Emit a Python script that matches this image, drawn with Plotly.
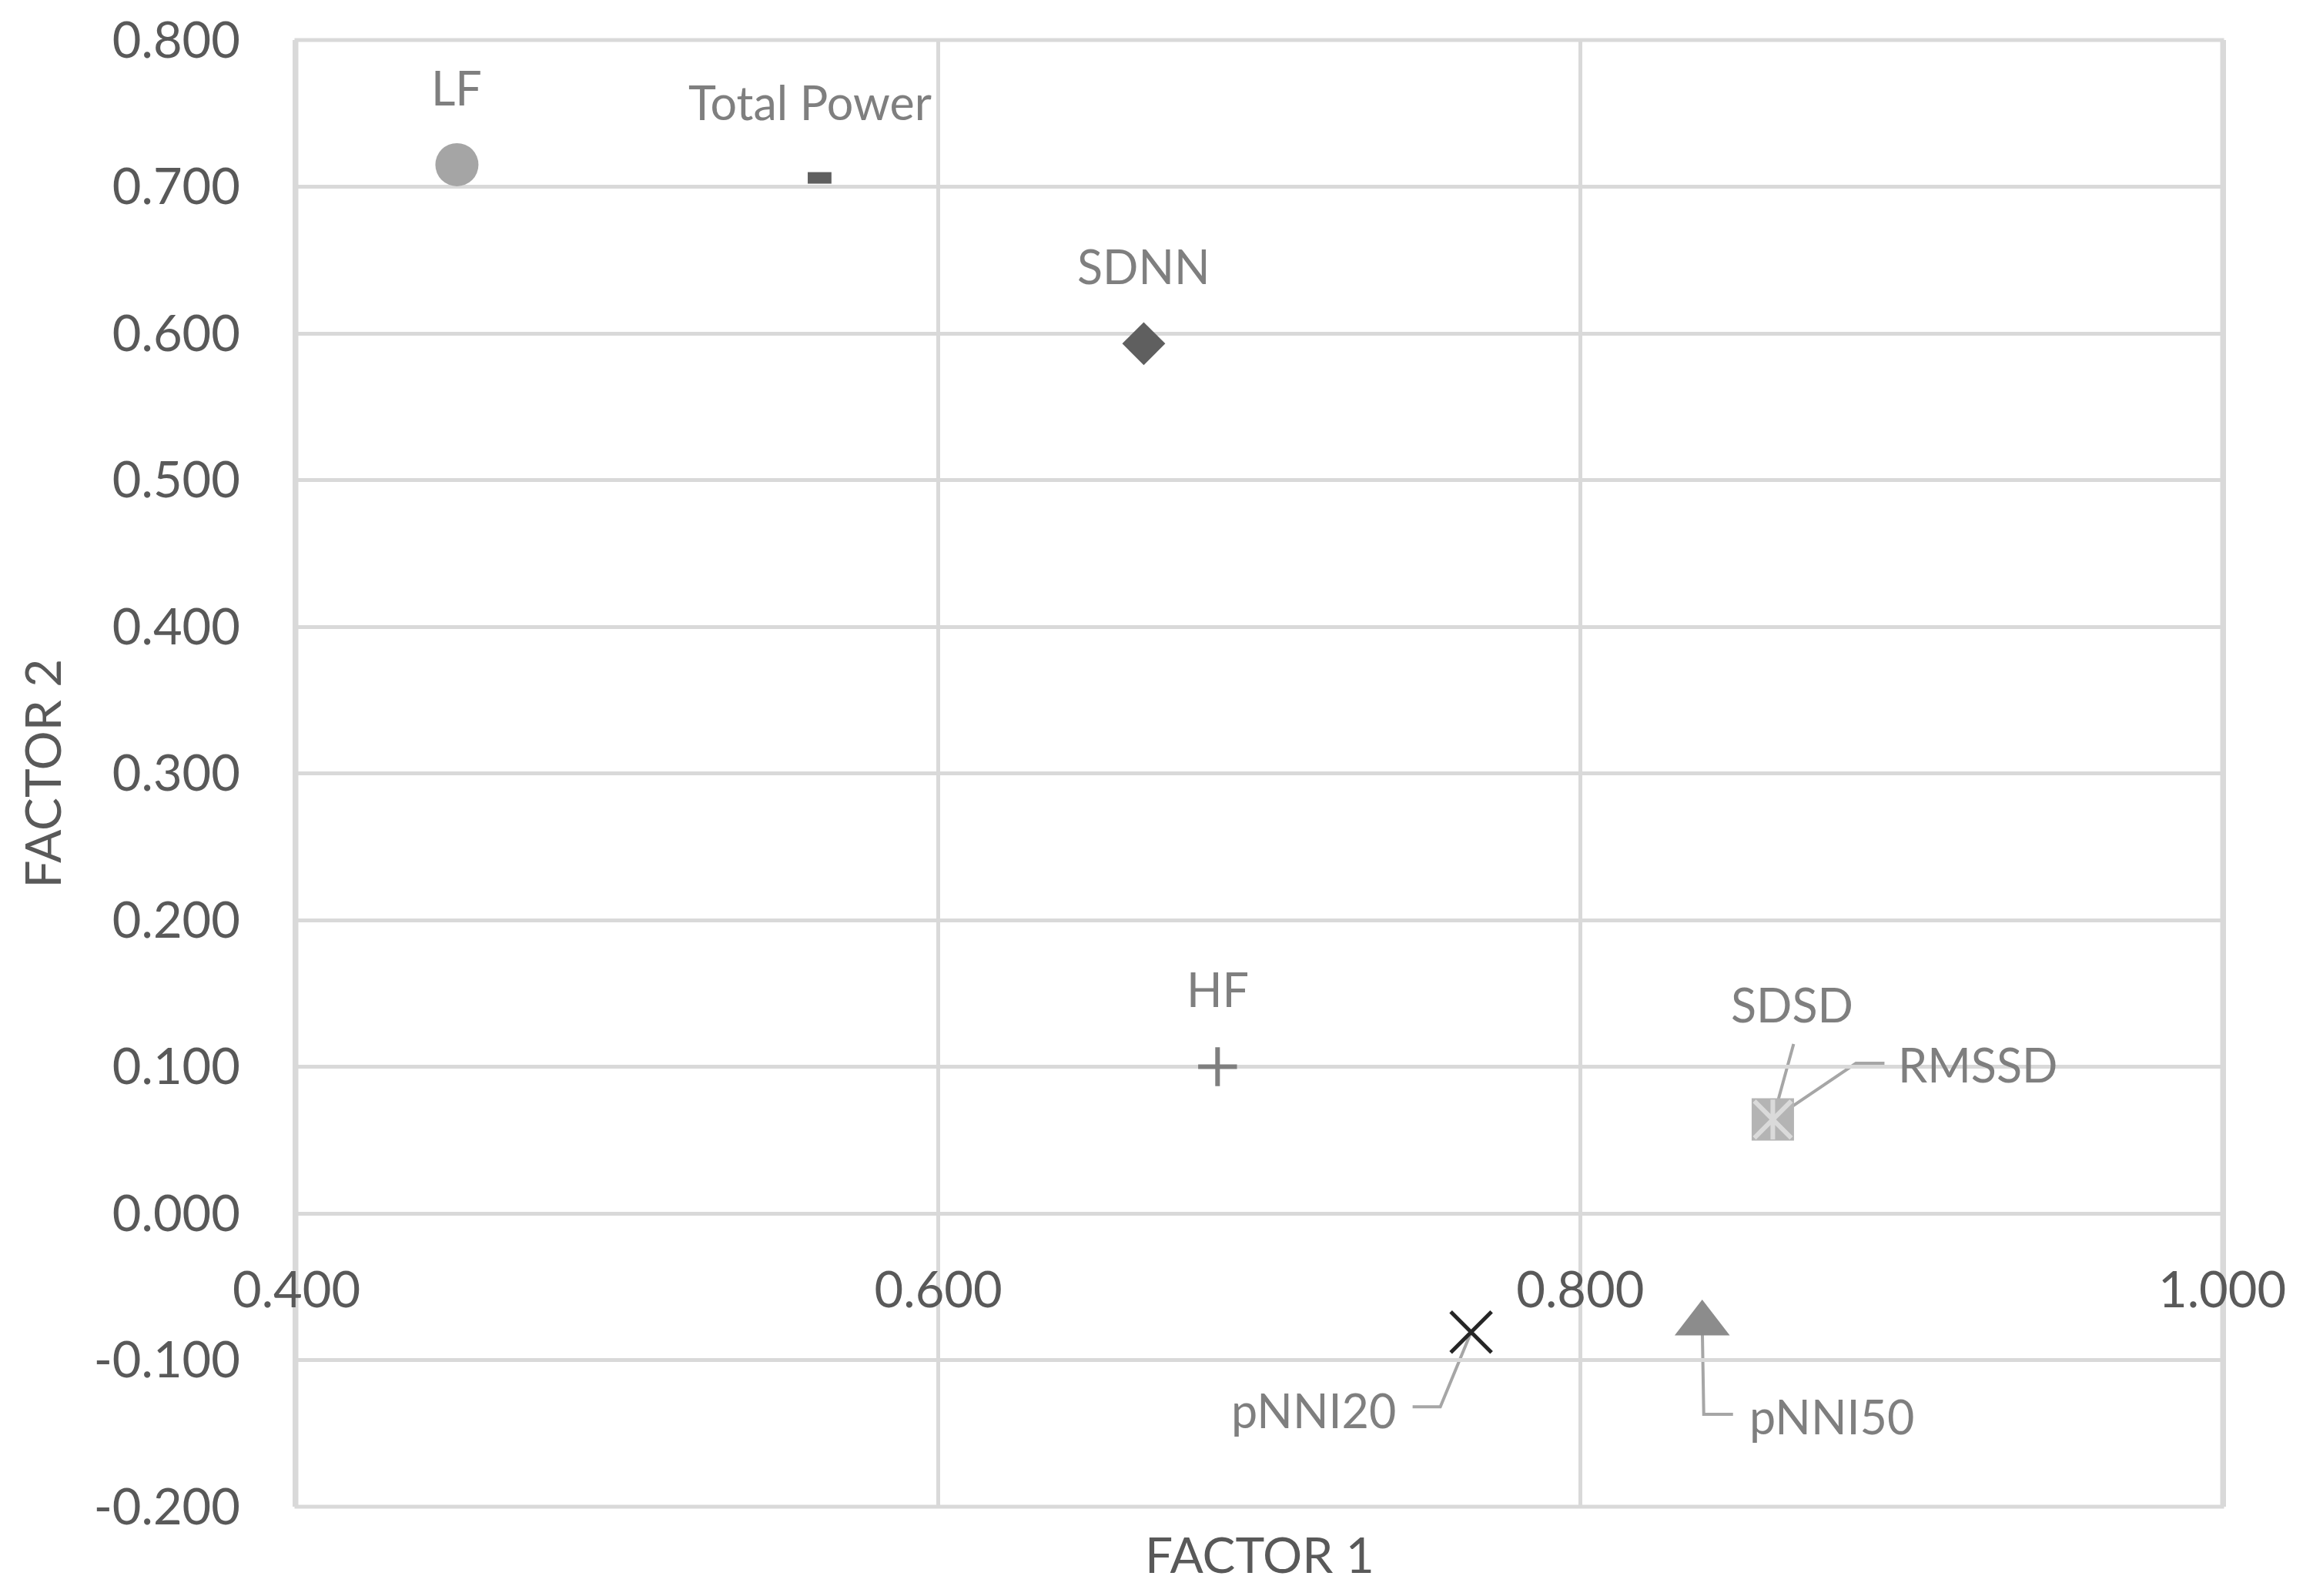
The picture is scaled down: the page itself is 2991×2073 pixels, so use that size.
import plotly.graph_objects as go

# factor loadings
names = ["LF", "Total Power", "SDNN", "HF", "RMSSD", "SDSD", "pNNI20", "pNNI50"]
factor1 = [0.450, 0.563, 0.664, 0.687, 0.860, 0.860, 0.766, 0.838]
factor2 = [0.715, 0.706, 0.593, 0.100, 0.064, 0.064, -0.081, -0.075]

x_ticks = [0.4, 0.6, 0.8, 1.0]
y_ticks = [-0.2, -0.1, 0.0, 0.1, 0.2, 0.3, 0.4, 0.5, 0.6, 0.7, 0.8]

FONT = "Lato"
GRID = "#d9d9d9"
TICK_COL = "#595959"
LABEL_COL = "#7f7f7f"
LEADER_COL = "#a6a6a6"

# marker look per series (Excel-ish default grey theme)
markers = {
    "LF": [dict(symbol="circle", size=56, color="#a5a5a5")],
    "Total Power": [dict(symbol="line-ew", size=22, line=dict(color="#5f5f5f", width=15))],
    "SDNN": [dict(symbol="diamond", size=43, color="#5f5f5f")],
    "HF": [dict(symbol="cross-thin", size=36, line=dict(color="#7f7f7f", width=6))],
    "RMSSD": [dict(symbol="square", size=55, color="#b4b4b4")],
    "SDSD": [dict(symbol="x-thin", size=48, line=dict(color="#dadada", width=6)),
             dict(symbol="line-ns", size=37, line=dict(color="#dadada", width=6))],
    "pNNI20": [dict(symbol="x-thin", size=53, line=dict(color="#262626", width=5))],
    "pNNI50": [dict(symbol="triangle-up", size=62, color="#8c8c8c")],
}

# label offsets in px from the point (x right, y up)
label_shift = {
    "LF": (0, 100), "Total Power": (-12, 99), "SDNN": (0, 101), "HF": (0, 101),
    "RMSSD": (266, 72), "SDSD": (25, 150), "pNNI20": (-205, -101), "pNNI50": (168, -121),
}

# leader lines (px paths relative to the point)
leaders = {
    "SDSD": "M0,0 L27,98",
    "RMSSD": "M0,0 L108,73 L145,73",
    "pNNI20": "M0,0 L-40,-97 L-76,-97",
    "pNNI50": "M0,0 L2,-118 L40,-118",
}

fig = go.Figure()

for name, fx, fy in zip(names, factor1, factor2):
    for m in markers[name]:
        fig.add_trace(go.Scatter(x=[fx], y=[fy], mode="markers", name=name,
                                 marker=m, showlegend=False, cliponaxis=False))

annotations = []
for name, fx, fy in zip(names, factor1, factor2):
    dx, dy = label_shift[name]
    annotations.append(dict(x=fx, y=fy, xref="x", yref="y", text=name, showarrow=False,
                            xshift=dx, yshift=dy, xanchor="center", yanchor="middle",
                            font=dict(family=FONT, size=61, color=LABEL_COL)))

# plot frame + leader lines
shapes = [dict(type="rect", xref="paper", yref="paper", x0=0, x1=1, y0=0, y1=1,
               line=dict(color=GRID, width=5), layer="below")]
for name, fx, fy in zip(names, factor1, factor2):
    if name in leaders:
        shapes.append(dict(type="path", xref="x", yref="y", xsizemode="pixel", ysizemode="pixel",
                           xanchor=fx, yanchor=fy, path=leaders[name],
                           line=dict(color=LEADER_COL, width=4), layer="below"))

annotations.append(dict(x=0.5, y=0, xref="paper", yref="paper", text="FACTOR 1", showarrow=False,
                        xanchor="center", yanchor="middle", yshift=-61,
                        font=dict(family=FONT, size=64, color=TICK_COL)))
annotations.append(dict(x=0, y=0.5, xref="paper", yref="paper", text="FACTOR 2", showarrow=False,
                        xanchor="center", yanchor="middle", xshift=-331, textangle=-90,
                        font=dict(family=FONT, size=64, color=TICK_COL)))

fig.update_layout(
    width=2991, height=2073,
    margin=dict(l=377, r=113, t=44, b=124, autoexpand=False),
    plot_bgcolor="white", paper_bgcolor="white",
    annotations=annotations, shapes=shapes,
    xaxis=dict(range=[0.4, 1.0], tickvals=x_ticks, ticktext=[f"{v:.3f}" for v in x_ticks],
               anchor="free", position=0.2, automargin=False,
               showgrid=True, gridcolor=GRID, gridwidth=5, zeroline=False,
               showline=True, linecolor=GRID, linewidth=5,
               ticks="", ticklabelstandoff=41,
               tickfont=dict(family=FONT, size=65, color=TICK_COL)),
    yaxis=dict(range=[-0.2, 0.8], tickvals=y_ticks, ticktext=[f"{v:.3f}" for v in y_ticks],
               automargin=False,
               showgrid=True, gridcolor=GRID, gridwidth=5, zeroline=False,
               showline=True, mirror=True, linecolor=GRID, linewidth=5,
               ticks="", ticklabelstandoff=55,
               tickfont=dict(family=FONT, size=65, color=TICK_COL)),
)

fig.write_html("out.html")
